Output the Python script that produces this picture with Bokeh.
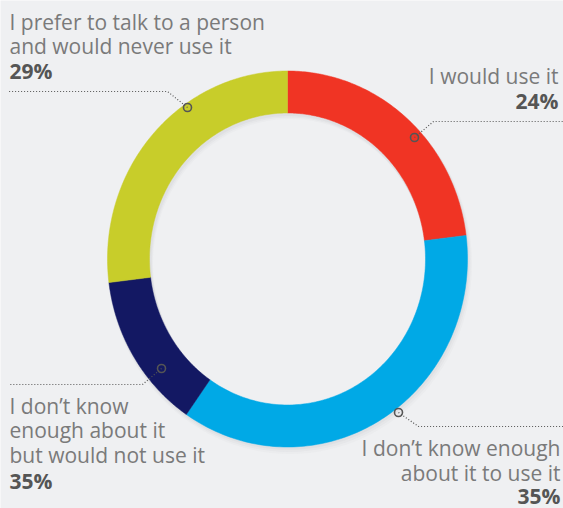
import math
from bokeh.plotting import figure
from bokeh.models import Range1d, ColumnDataSource
from bokeh.core.properties import value
from bokeh.embed import file_html
from bokeh.resources import INLINE

# ---- data ----
categories = ["I would use it",
              "I don't know enough about it to use it",
              "I don't know enough about it but would not use it",
              "I prefer to talk to a person and would never use it"]
shares = [23, 36.5, 13.5, 27]          # slice sizes as drawn in the ring
pct_labels = ["24%", "35%", "35%", "29%"]   # as printed on the chart
colors = ["#f03424", "#00a9e6", "#131863", "#c8cd2a"]

W, H = 563, 508
BG = "#eff0f2"
BASE_SHIFT = 8

def Y(py):
    return H - py

p = figure(width=W, height=H, x_range=Range1d(0, W), y_range=Range1d(0, H),
           output_backend="svg", toolbar_location=None, min_border=0)
p.axis.visible = False
p.grid.visible = False
p.outline_line_color = None
p.background_fill_color = BG
p.border_fill_color = BG

cx, cy = 287, Y(258.5)
rx_out, ry_out = 180, 188
rx_in, ry_in = 138, 146


def ring_sector(a0, a1, dx=0.0, dy=0.0, grow=0.0, shrink=0.0, n=120):
    """a0, a1: fractions of the full turn, clockwise from 12 o'clock."""
    ts = [a0 + (a1 - a0) * k / n for k in range(n + 1)]
    xs, ys = [], []
    for t in ts:
        th = t * 2 * math.pi
        xs.append(cx + dx + (rx_out + grow) * math.sin(th))
        ys.append(cy + dy + (ry_out + grow) * math.cos(th))
    for t in reversed(ts):
        th = t * 2 * math.pi
        xs.append(cx + dx + (rx_in - shrink) * math.sin(th))
        ys.append(cy + dy + (ry_in - shrink) * math.cos(th))
    return xs, ys


# soft shadow
for dr, a in [(5, 0.04), (3.5, 0.05), (2, 0.07)]:
    sx, sy = ring_sector(0, 1, dx=dr * 0.5, dy=-dr, grow=dr * 0.4, shrink=1)
    p.patch(sx, sy, fill_color="#8f9195", fill_alpha=a, line_color=None)

total = float(sum(shares))
xs_all, ys_all = [], []
acc = 0.0
for s in shares:
    a0 = acc / total
    acc += s
    a1 = acc / total
    xs, ys = ring_sector(a0, a1)
    xs_all.append(xs)
    ys_all.append(ys)

src = ColumnDataSource(dict(xs=xs_all, ys=ys_all, cat=categories, share=shares, color=colors))
p.patches("xs", "ys", fill_color="color", line_color="color", line_width=0.5, source=src)

# leader lines (pixel layout)
leaders = [
    [(414, 137), (433, 121), (563, 121)],
    [(398, 412), (418, 426), (563, 426)],
    [(161, 368), (142, 384), (8, 384)],
    [(187, 107), (167, 91), (8, 91)],
]
for pts in leaders:
    p.line([q[0] for q in pts], [Y(q[1]) for q in pts],
           line_color="#555555", line_width=1.2, line_dash="1 2")
p.scatter([pts[0][0] for pts in leaders], [Y(pts[0][1]) for pts in leaders], marker="circle",
          size=8, fill_color=None, line_color="#555555", line_width=1.6)

FONT = value("Open Sans")
TXT = "#7a7a7a"
PCT = "#555555"
FS = "21px"

blocks = [
    (558, [83], ["I would use it"], "right", 108),
    (560, [455, 480], ["I don\u2019t know enough", "about it to use it"], "right", 503),
    (9, [413, 437, 462], ["I don\u2019t know", "enough about it", "but would not use it"], "left", 488),
    (9, [29, 53], ["I prefer to talk to a person", "and would never use it"], "left", 78),
]
for i, (x, bls, lines, align, pb) in enumerate(blocks):
    p.text(x=[x] * len(lines), y=[Y(b - BASE_SHIFT) for b in bls], text=lines, text_align=align,
           text_baseline="alphabetic", text_font=FONT, text_font_size=FS, text_color=TXT)
    p.text(x=[x], y=[Y(pb - BASE_SHIFT)], text=[pct_labels[i]], text_align=align,
           text_baseline="alphabetic", text_font=FONT, text_font_size=FS,
           text_font_style="bold", text_color=PCT)

open("out.html", "w").write(file_html(p, INLINE))
